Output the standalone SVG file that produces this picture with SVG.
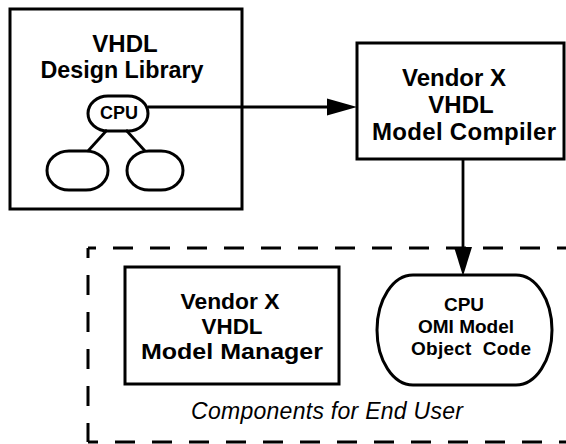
<svg xmlns="http://www.w3.org/2000/svg" width="566" height="444" viewBox="0 0 566 444">
<style>
.box{fill:none;stroke:#000;stroke-width:3}
.ln{fill:none;stroke:#000;stroke-width:2.8}
.dash{fill:none;stroke:#000;stroke-width:3;stroke-dasharray:20 17}
.t{font-family:"Liberation Sans",Arial,Helvetica,sans-serif;font-weight:bold;font-size:24px;fill:#000;text-anchor:middle}
.m{font-family:"Liberation Sans",Arial,Helvetica,sans-serif;font-weight:bold;font-size:21.5px;fill:#000;text-anchor:middle}
.s{font-family:"Liberation Sans",Arial,Helvetica,sans-serif;font-weight:bold;font-size:19px;fill:#000;text-anchor:middle}
.c{font-family:"Liberation Sans",Arial,Helvetica,sans-serif;font-weight:bold;font-size:18px;fill:#000;text-anchor:middle}
.i{font-family:"Liberation Sans",Arial,Helvetica,sans-serif;font-style:italic;font-size:23px;fill:#000;text-anchor:middle}
</style>
<rect width="566" height="444" fill="#fff"/>
<g id="library">
<rect class="box" x="10" y="9" width="232" height="200"/>
<text class="t" x="125" y="52">VHDL</text>
<text class="t" x="122" y="78" textLength="163" lengthAdjust="spacingAndGlyphs">Design Library</text>
<rect class="box" x="88" y="96" width="60" height="35" rx="20" ry="17.5"/>
<text class="c" x="119" y="119">CPU</text>
<rect class="box" x="47" y="151" width="61" height="39" rx="22" ry="19.5"/>
<rect class="box" x="127" y="151" width="56" height="39" rx="22" ry="19.5"/>
<line class="ln" x1="107" y1="130" x2="88" y2="151"/>
<line class="ln" x1="126" y1="130" x2="145" y2="151"/>
</g>
<g id="compiler">
<rect class="box" x="357" y="43" width="207" height="116"/>
<text class="t" x="454" y="86">Vendor X</text>
<text class="t" x="461" y="113">VHDL</text>
<text class="t" x="464" y="140" textLength="184" lengthAdjust="spacing">Model Compiler</text>
</g>
<g id="manager">
<rect class="box" x="125" y="267" width="214" height="117"/>
<text class="m" x="230" y="309" textLength="99" lengthAdjust="spacingAndGlyphs">Vendor X</text>
<text class="m" x="232" y="334" textLength="61" lengthAdjust="spacingAndGlyphs">VHDL</text>
<text class="m" x="232" y="359" textLength="182" lengthAdjust="spacingAndGlyphs">Model Manager</text>
</g>
<g id="object-code">
<rect class="box" x="377" y="275" width="175" height="110" rx="36" ry="55"/>
<text class="s" x="464" y="311">CPU</text>
<text class="s" x="466" y="333">OMI Model</text>
<text class="s" x="471" y="355" textLength="120" lengthAdjust="spacing" xml:space="preserve">Object  Code</text>
</g>
<g id="end-user-group">
<line class="dash" x1="88" y1="248" x2="600" y2="248" stroke-dashoffset="12"/>
<line class="dash" x1="88" y1="248" x2="88" y2="442" stroke-dashoffset="10"/>
<line class="dash" x1="88" y1="442" x2="600" y2="442" stroke-dashoffset="10"/>
<text class="i" x="327" y="419" textLength="272" lengthAdjust="spacing">Components for End User</text>
</g>
<g id="connectors">
<line class="ln" x1="148" y1="107" x2="330" y2="107"/>
<polygon points="327,98.5 357,107 327,115.5" fill="#000"/>
<line class="ln" x1="463" y1="159" x2="463" y2="250"/>
<polygon points="454,247 472,247 463,276" fill="#000"/>
</g>
</svg>
